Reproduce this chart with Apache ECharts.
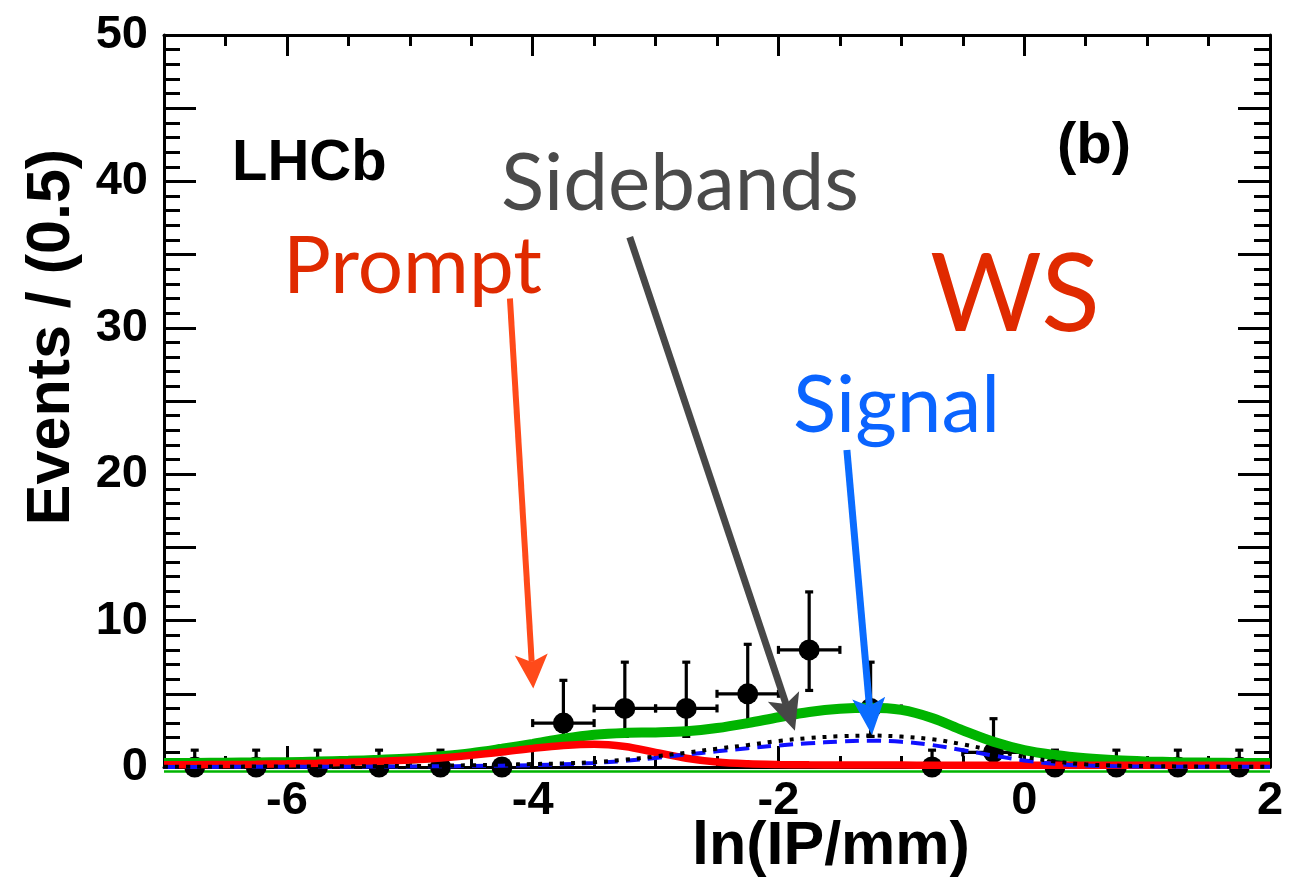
<!DOCTYPE html>
<html>
<head>
<meta charset="utf-8">
<script src="https://cdn.jsdelivr.net/npm/echarts@6/dist/echarts.min.js"></script>
<style>
  html, body { margin: 0; padding: 0; background: #ffffff; }
  #chart { width: 1306px; height: 880px; }
</style>
</head>
<body>
<div id="chart"></div>
<script>
// ---- data: wrong-sign candidates per 0.5 bin in ln(IP/mm) ----
const binCentres = [-6.75, -6.25, -5.75, -5.25, -4.75, -4.25, -3.75, -3.25, -2.75,
                    -2.25, -1.75, -1.25, -0.75, -0.25, 0.25, 0.75, 1.25, 1.75];
const counts     = [0, 0, 0, 0, 0, 0, 3, 4, 4, 5, 8, 4, 0, 1, 0, 0, 0, 0];
const errUp      = [1.15, 1.15, 1.15, 1.15, 1.15, 0, 2.92, 3.16, 3.16, 3.38, 3.96, 3.16,
                    1.15, 2.30, 1.15, 1.15, 1.15, 1.15];
const errDown    = [0, 0, 0, 0, 0, 0, 1.63, 1.91, 1.91, 2.16, 2.77, 1.91, 0, 0.83, 0, 0, 0, 0];
const binHalfWidth = 0.25;

// ---- fit components, sampled every 0.25 ----
const curveX = [-7, -6.75, -6.5, -6.25, -6, -5.75, -5.5, -5.25, -5, -4.75, -4.5, -4.25,
                -4, -3.75, -3.5, -3.25, -3, -2.75, -2.5, -2.25, -2, -1.75, -1.5, -1.25,
                -1, -0.75, -0.5, -0.25, 0, 0.25, 0.5, 0.75, 1, 1.25, 1.5, 1.75, 2];
const totalFit    = [0.27, 0.28, 0.29, 0.31, 0.33, 0.37, 0.42, 0.49, 0.58, 0.74, 0.95, 1.25,
                     1.58, 1.93, 2.2, 2.33, 2.36, 2.44, 2.66, 3.0, 3.4, 3.76, 3.98, 4.05,
                     3.9, 3.35, 2.5, 1.72, 1.15, 0.82, 0.6, 0.46, 0.38, 0.33, 0.3, 0.28, 0.27];
const promptFit   = [0.15, 0.16, 0.17, 0.19, 0.22, 0.26, 0.32, 0.39, 0.48, 0.62, 0.8, 1.02,
                     1.27, 1.47, 1.56, 1.4, 1.0, 0.6, 0.34, 0.22, 0.17, 0.15, 0.14, 0.13,
                     0.13, 0.12, 0.12, 0.12, 0.12, 0.12, 0.12, 0.12, 0.12, 0.12, 0.12, 0.12, 0.12];
const signalFit   = [0.0, 0.0, 0.01, 0.01, 0.01, 0.02, 0.02, 0.03, 0.04, 0.05, 0.07, 0.09,
                     0.12, 0.18, 0.28, 0.42, 0.62, 0.85, 1.07, 1.28, 1.47, 1.62, 1.74, 1.8,
                     1.72, 1.5, 1.15, 0.78, 0.45, 0.22, 0.1, 0.05, 0.03, 0.02, 0.01, 0.01, 0.01];
const sidebandFit = [0.02, 0.02, 0.02, 0.03, 0.03, 0.04, 0.05, 0.06, 0.07, 0.09, 0.12, 0.16,
                     0.2, 0.25, 0.33, 0.5, 0.72, 0.98, 1.25, 1.5, 1.78, 1.98, 2.1, 2.15,
                     2.08, 1.9, 1.55, 1.12, 0.7, 0.38, 0.18, 0.1, 0.06, 0.04, 0.03, 0.02, 0.02];
const fitFloorX = [-7, 2];
const fitFloor  = [-0.3, -0.3];

// ---- axis ticks ----
const xTickLabels = [-6, -4, -2, 0, 2];
const xMajorTicks = [-6, -4, -2, 0, 2];
const yTickLabels = [0, 10, 20, 30, 40, 50];
const yMajorTicks = [0, 5, 10, 15, 20, 25, 30, 35, 40, 45, 50];

const pairs = (xs, ys) => xs.map((x, i) => [x, ys[i]]);

const BOLD = "'Liberation Sans', Arial, Helvetica, sans-serif";
const LABEL_FONT = "Lato, 'Open Sans', sans-serif";
const frame = { color: '#000', width: 3 };
const tickLine = { color: '#000', width: 3 };

function xAxisDef(position, major, withLabels) {
  return {
    type: 'value', min: -7, max: 2, position: position,
    interval: major ? undefined : 0.5,
    axisLine: { show: !major, onZero: false, lineStyle: frame },
    axisTick: major
      ? { inside: true, length: 21, lineStyle: tickLine, customValues: xMajorTicks }
      : { inside: true, length: 11, lineStyle: tickLine },
    axisLabel: withLabels
      ? { customValues: xTickLabels, margin: 11, color: '#000', fontSize: 47,
          fontWeight: 'bold', fontFamily: BOLD }
      : { show: false },
    splitLine: { show: false }
  };
}
function yAxisDef(position, major, withLabels) {
  return {
    type: 'value', min: 0, max: 50, position: position,
    interval: major ? undefined : 1,
    axisLine: { show: !major, onZero: false, lineStyle: frame },
    axisTick: major
      ? { inside: true, length: 32, lineStyle: tickLine, customValues: yMajorTicks }
      : { inside: true, length: 16, lineStyle: tickLine },
    axisLabel: withLabels
      ? { customValues: yTickLabels, margin: 16, color: '#000', fontSize: 47,
          fontWeight: 'bold', fontFamily: BOLD }
      : { show: false },
    splitLine: { show: false }
  };
}

const chart = echarts.init(document.getElementById('chart'), null, { renderer: 'canvas' });

const option = {
  animation: false,
  backgroundColor: '#ffffff',
  grid: { left: 164, right: 36, top: 35, bottom: 113, containLabel: false },
  xAxis: [
    xAxisDef('bottom', false, false),
    xAxisDef('bottom', true, true),
    xAxisDef('top', false, false),
    xAxisDef('top', true, false)
  ],
  yAxis: [
    yAxisDef('left', false, false),
    yAxisDef('left', true, true),
    yAxisDef('right', false, false),
    yAxisDef('right', true, false)
  ],
  series: [
    {
      // error bars of the data points
      type: 'custom',
      name: 'errors',
      xAxisIndex: 0, yAxisIndex: 0,
      data: binCentres.map((x, i) => [x, counts[i], errDown[i], errUp[i]]),
      renderItem: function (params, api) {
        const x = api.value(0), y = api.value(1), lo = api.value(2), hi = api.value(3);
        const c = api.coord([x, y]);
        const style = { stroke: '#000', lineWidth: 3.2 };
        const kids = [];
        const capHalf = 4;
        if (hi > 0) {
          const t = api.coord([x, y + hi]);
          kids.push({ type: 'line', shape: { x1: c[0], y1: c[1], x2: t[0], y2: t[1] }, style });
          kids.push({ type: 'line', shape: { x1: t[0] - capHalf, y1: t[1], x2: t[0] + capHalf, y2: t[1] }, style });
        }
        if (lo > 0) {
          const b = api.coord([x, y - lo]);
          kids.push({ type: 'line', shape: { x1: c[0], y1: c[1], x2: b[0], y2: b[1] }, style });
          kids.push({ type: 'line', shape: { x1: b[0] - capHalf, y1: b[1], x2: b[0] + capHalf, y2: b[1] }, style });
        }
        if (y > 0) {
          const l = api.coord([x - binHalfWidth, y]);
          const r = api.coord([x + binHalfWidth, y]);
          kids.push({ type: 'line', shape: { x1: l[0], y1: l[1], x2: r[0], y2: r[1] }, style });
          kids.push({ type: 'line', shape: { x1: l[0], y1: l[1] - capHalf, x2: l[0], y2: l[1] + capHalf }, style });
          kids.push({ type: 'line', shape: { x1: r[0], y1: r[1] - capHalf, x2: r[0], y2: r[1] + capHalf }, style });
        }
        return { type: 'group', children: kids };
      },
      z: 2
    },
    {
      type: 'scatter',
      name: 'data',
      xAxisIndex: 0, yAxisIndex: 0,
      data: pairs(binCentres, counts),
      symbol: 'circle',
      symbolSize: 21,
      itemStyle: { color: '#000', opacity: 1 },
      clip: false,
      z: 3
    },
    {
      type: 'line',
      name: 'floor',
      xAxisIndex: 0, yAxisIndex: 0,
      data: pairs(fitFloorX, fitFloor),
      showSymbol: false,
      clip: false,
      lineStyle: { color: '#00b400', width: 2.5 },
      z: 3
    },
    {
      type: 'line',
      name: 'Total',
      xAxisIndex: 0, yAxisIndex: 0,
      data: pairs(curveX, totalFit),
      smooth: 0.35,
      showSymbol: false,
      lineStyle: { color: '#00b400', width: 10 },
      z: 4
    },
    {
      type: 'line',
      name: 'Prompt',
      xAxisIndex: 0, yAxisIndex: 0,
      data: pairs(curveX, promptFit),
      smooth: 0.35,
      showSymbol: false,
      lineStyle: { color: '#ff0000', width: 7.5 },
      z: 5
    },
    {
      type: 'line',
      name: 'Signal',
      xAxisIndex: 0, yAxisIndex: 0,
      data: pairs(curveX, signalFit),
      smooth: 0.35,
      showSymbol: false,
      lineStyle: { color: '#1010ff', width: 4, type: [14, 8] },
      z: 6
    },
    {
      type: 'line',
      name: 'Sidebands',
      xAxisIndex: 0, yAxisIndex: 0,
      data: pairs(curveX, sidebandFit),
      smooth: 0.35,
      showSymbol: false,
      lineStyle: { color: '#000000', width: 4, type: [4, 7] },
      z: 6
    }
  ]
};
chart.setOption(option);

// ---- annotations: arrows (data coordinates) and text ----
const arrowSpecs = [
  { from: [-4.185, 32.0], to: [-3.995, 5.37], color: '#ff4a1a', width: 6, headLen: 34, headW: 33 },
  { from: [-3.21, 36.2],  to: [-1.866, 2.48], color: '#474747', width: 7, headLen: 36, headW: 33 },
  { from: [-1.443, 21.65], to: [-1.239, 2.19], color: '#0a6cff', width: 7, headLen: 37, headW: 33 }
];

function arrowGraphic(spec) {
  const p0 = chart.convertToPixel({ xAxisIndex: 0, yAxisIndex: 0 }, spec.from);
  const p1 = chart.convertToPixel({ xAxisIndex: 0, yAxisIndex: 0 }, spec.to);
  const dx = p1[0] - p0[0], dy = p1[1] - p0[1];
  const len = Math.hypot(dx, dy);
  const ux = dx / len, uy = dy / len, nx = -uy, ny = ux;
  const bx = p1[0] - ux * spec.headLen, by = p1[1] - uy * spec.headLen;
  const mx = p1[0] - ux * spec.headLen * 0.78, my = p1[1] - uy * spec.headLen * 0.78;
  const hw = spec.headW / 2;
  return [
    { type: 'line', z: 50, shape: { x1: p0[0], y1: p0[1], x2: mx, y2: my },
      style: { stroke: spec.color, lineWidth: spec.width } },
    { type: 'polygon', z: 50,
      shape: { points: [[p1[0], p1[1]], [bx + nx * hw, by + ny * hw], [mx, my], [bx - nx * hw, by - ny * hw]] },
      style: { fill: spec.color } }
  ];
}

const texts = [
  { text: 'LHCb', x: 232, y: 164, font: 'bold 58px ' + BOLD, fill: '#000' },
  { text: '(b)', x: 1057, y: 147, font: 'bold 58px ' + BOLD, fill: '#000' },
  { text: 'Sidebands', x: 501, y: 184, font: '80px ' + LABEL_FONT, fill: '#4a4a4a' },
  { text: 'Prompt', x: 283, y: 267, font: '80px ' + LABEL_FONT, fill: '#e02a00' },
  { text: 'WS', x: 930, y: 296, font: '108px ' + LABEL_FONT, fill: '#e02a00' },
  { text: 'Signal', x: 793, y: 406, font: '80px ' + LABEL_FONT, fill: '#0a64ff' },
  { text: 'ln(IP/mm)', x: 692, y: 847, font: 'bold 61px ' + BOLD, fill: '#000' }
];

const graphics = [];
texts.forEach(t => graphics.push({
  type: 'text', z: 60,
  style: { text: t.text, x: t.x, y: t.y, font: t.font, fill: t.fill,
           align: 'left', verticalAlign: 'middle' }
}));
graphics.push({
  type: 'text', z: 60, x: 52, y: 337, rotation: Math.PI / 2,
  style: { text: 'Events / (0.5)', font: 'bold 61px ' + BOLD, fill: '#000',
           align: 'center', verticalAlign: 'middle' }
});
arrowSpecs.forEach(a => arrowGraphic(a).forEach(g => graphics.push(g)));

chart.setOption({ graphic: graphics });
</script>
</body>
</html>
